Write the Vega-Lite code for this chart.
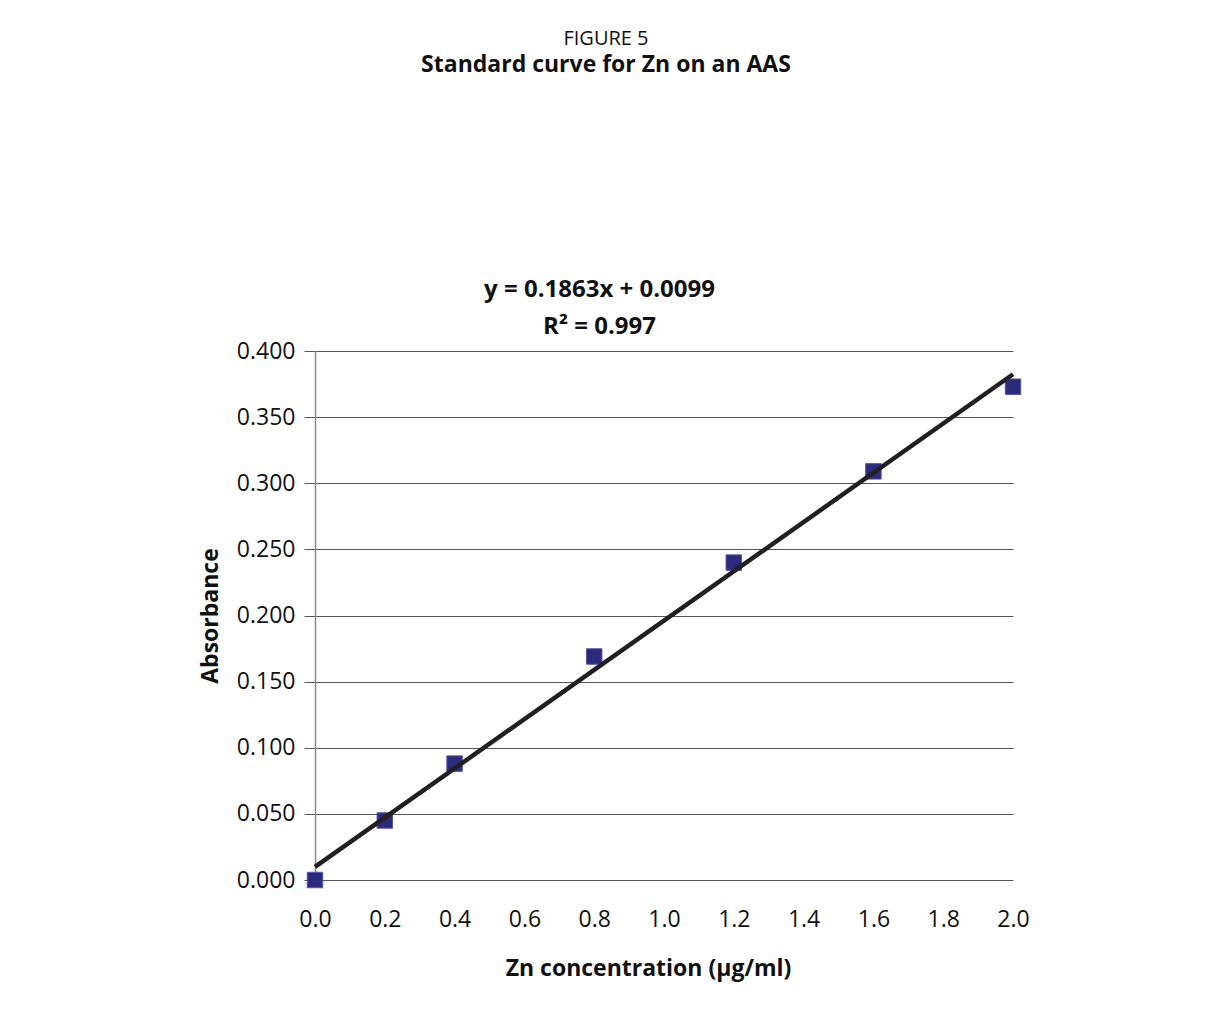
{
  "$schema": "https://vega.github.io/schema/vega-lite/v6.json",
  "width": 698,
  "height": 529,
  "autosize": {"type": "none"},
  "padding": {"left": 315, "top": 351, "right": 197, "bottom": 139},
  "background": "white",
  "config": {
    "font": "Open Sans",
    "view": {"stroke": null}
  },
  "title": {
    "text": "FIGURE 5",
    "subtitle": "Standard curve for Zn on an AAS",
    "fontSize": 20,
    "fontWeight": "normal",
    "color": "#111111",
    "subtitleFontSize": 23,
    "subtitleFontWeight": "bold",
    "subtitleColor": "#111111",
    "subtitlePadding": 5,
    "anchor": "middle",
    "frame": "group",
    "dx": -58,
    "offset": 200
  },
  "data": {
    "values": [
      {"conc": 0.0, "abs": 0.000},
      {"conc": 0.2, "abs": 0.045},
      {"conc": 0.4, "abs": 0.088},
      {"conc": 0.8, "abs": 0.169},
      {"conc": 1.2, "abs": 0.240},
      {"conc": 1.6, "abs": 0.309},
      {"conc": 2.0, "abs": 0.373}
    ]
  },
  "resolve": {"axis": {"x": "independent"}},
  "layer": [
    {
      "mark": {"type": "point", "shape": "square", "filled": true, "size": 240, "color": "#2b2b7b", "stroke": "#5656aa", "strokeWidth": 1, "opacity": 1},
      "encoding": {
        "x": {
          "field": "conc", "type": "quantitative",
          "scale": {"domain": [0, 2], "nice": false, "zero": true},
          "axis": {
            "values": [0, 0.2, 0.4, 0.6, 0.8, 1.0, 1.2, 1.4, 1.6, 1.8, 2.0],
            "format": ".1f",
            "grid": false,
            "ticks": false,
            "domain": false,
            "labelFlush": false,
            "labelOverlap": false,
            "labelFontSize": 23,
            "labelColor": "#111111",
            "labelPadding": 28,
            "title": "Zn concentration (µg/ml)",
            "titleFontSize": 23,
            "titleFontWeight": "bold",
            "titleColor": "#111111",
            "titleX": 333,
            "titleY": 95,
            "titleBaseline": "alphabetic"
          }
        },
        "y": {
          "field": "abs", "type": "quantitative",
          "scale": {"domain": [0, 0.4], "nice": false},
          "axis": {
            "values": [0, 0.05, 0.1, 0.15, 0.2, 0.25, 0.3, 0.35, 0.4],
            "format": ".3f",
            "grid": true,
            "gridColor": "#555555",
            "gridWidth": 1,
            "gridOpacity": 1,
            "domain": true,
            "domainColor": "#888888",
            "domainWidth": 1.5,
            "ticks": true,
            "tickSize": 11,
            "tickColor": "#555555",
            "labelFlush": false,
            "labelOverlap": false,
            "labelFontSize": 23,
            "labelColor": "#111111",
            "labelPadding": 9,
            "title": "Absorbance",
            "titleFontSize": 23,
            "titleFontWeight": "bold",
            "titleColor": "#111111",
            "titlePadding": 14
          }
        }
      }
    },
    {
      "transform": [
        {"regression": "abs", "on": "conc", "method": "linear", "extent": [0, 2]}
      ],
      "mark": {"type": "line", "color": "#231f20", "strokeWidth": 4.5},
      "encoding": {
        "x": {
          "field": "conc", "type": "quantitative",
          "axis": {
            "orient": "top",
            "labels": false,
            "ticks": false,
            "domain": false,
            "grid": false,
            "title": ["y = 0.1863x + 0.0099", "R² = 0.997"],
            "titleFontSize": 24,
            "titleFontWeight": "bold",
            "titleColor": "#111111",
            "titleX": 284,
            "titleY": -55,
            "titleBaseline": "alphabetic",
            "titleLineHeight": 37
          }
        },
        "y": {"field": "abs", "type": "quantitative"}
      }
    }
  ]
}
